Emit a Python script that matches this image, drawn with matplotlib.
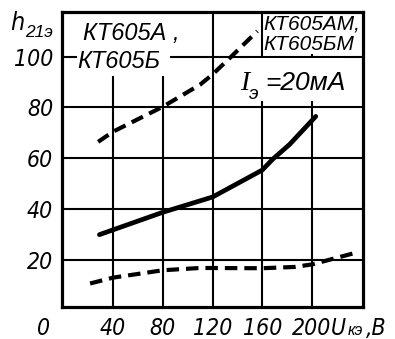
import matplotlib
matplotlib.use("Agg")
import matplotlib.pyplot as plt
from matplotlib.patches import Rectangle

# curves: U_кэ (V) -> h21э
upper_x = [28, 40, 80, 110, 120, 135, 156]
upper_y = [66.5, 70.5, 80.3, 89, 93, 100, 110]

solid_x = [29, 80, 120, 160, 168, 182, 203]
solid_y = [30, 38.8, 44.8, 55.4, 59.5, 65.5, 76.5]

lower_x = [21.5, 40, 80, 110, 160, 186, 200, 236]
lower_y = [10.8, 13.1, 16, 16.9, 16.8, 17.3, 18.3, 23]

x_ticks = [40, 80, 120, 160, 200]
y_ticks = [20, 40, 60, 80, 100]

# narrow italic for numbers, normal italic for the labels
NUM = dict(family="DejaVu Sans", stretch="condensed", style="oblique", fontsize=16.5)
WIDE = ["Liberation Sans", "DejaVu Sans"]

plt.rcParams["lines.scale_dashes"] = False

fig = plt.figure(figsize=(3.95, 3.39), dpi=100)
ax = fig.add_axes([0.156, 0.094, 0.763, 0.871])
ax.set_xlim(-1.4, 241)
ax.set_ylim(1.5, 117.6)

ax.set_xticks(x_ticks)
ax.set_yticks(y_ticks)
ax.set_xticklabels([str(v) for v in x_ticks], **NUM)
ax.set_yticklabels([str(v) for v in y_ticks], **NUM)
ax.tick_params(length=0, pad=6)
ax.tick_params(axis="x", pad=7)

ax.set_axisbelow(True)
ax.grid(True, color="black", lw=1.5)
for sp in ax.spines.values():
    sp.set_linewidth(2.3)

# white areas behind the labels hide parts of the grid
for (x0, y0, w, h) in [(11, 92.5, 75, 30), (161.2, 101, 79, 20), (150, 82.5, 75, 16.8)]:
    ax.add_patch(Rectangle((x0, y0), w, h, facecolor="white", edgecolor="none", zorder=1))

ax.plot(upper_x, upper_y, color="black", lw=3, dashes=(9, 5), zorder=3)
ax.plot(solid_x, solid_y, color="black", lw=3.4, zorder=3, solid_capstyle="round")
ax.plot(lower_x, lower_y, color="black", lw=3, dashes=(9, 5), zorder=3)

# labels
lab = dict(family=WIDE, style="italic", color="black", zorder=4)
ax.text(16, 106.6, "КТ605А ,", fontsize=17, ha="left", va="baseline", **lab)
ax.text(11, 95.5, "КТ605Б", fontsize=17, ha="left", va="baseline", **lab)
ax.text(161, 110.5, "КТ605АМ,", fontsize=15, ha="left", va="baseline", **lab)
ax.text(161, 102.6, "КТ605БМ", fontsize=15, ha="left", va="baseline", **lab)
ax.text(142, 86.9, "I", fontsize=20, ha="left", va="baseline", family=["Liberation Serif", "DejaVu Serif"],
        style="italic", zorder=4)
ax.text(149.5, 83.5, "э", fontsize=14, ha="left", va="baseline", **lab)
ax.text(162.5, 86.9, "=20мА", fontsize=19, ha="left", va="baseline", **lab)

# axis names
ax.text(-43, 110.5, "h", fontsize=18, ha="left", va="baseline", family="DejaVu Sans",
        stretch="condensed", style="oblique", clip_on=False)
ax.text(-31, 107.6, "21э", fontsize=12.5, ha="left", va="baseline", family=WIDE, style="italic",
        clip_on=False)

xt = ax.get_xaxis_transform()
ax.annotate("0", xy=(-16, 0), xycoords=xt, xytext=(0, -7), textcoords="offset points",
            ha="center", va="top", **NUM)
ax.annotate("U", xy=(215, 0), xycoords=xt, xytext=(0, -7), textcoords="offset points",
            ha="left", va="top", **NUM)
ax.annotate("кэ", xy=(228.5, 0), xycoords=xt, xytext=(0, -11.5), textcoords="offset points",
            ha="left", va="top", family=WIDE, style="italic", fontsize=11.5)
ax.annotate(",В", xy=(243.5, 0), xycoords=xt, xytext=(0, -7), textcoords="offset points",
            ha="left", va="top", **NUM)

fig.savefig("out.png", dpi=100)
